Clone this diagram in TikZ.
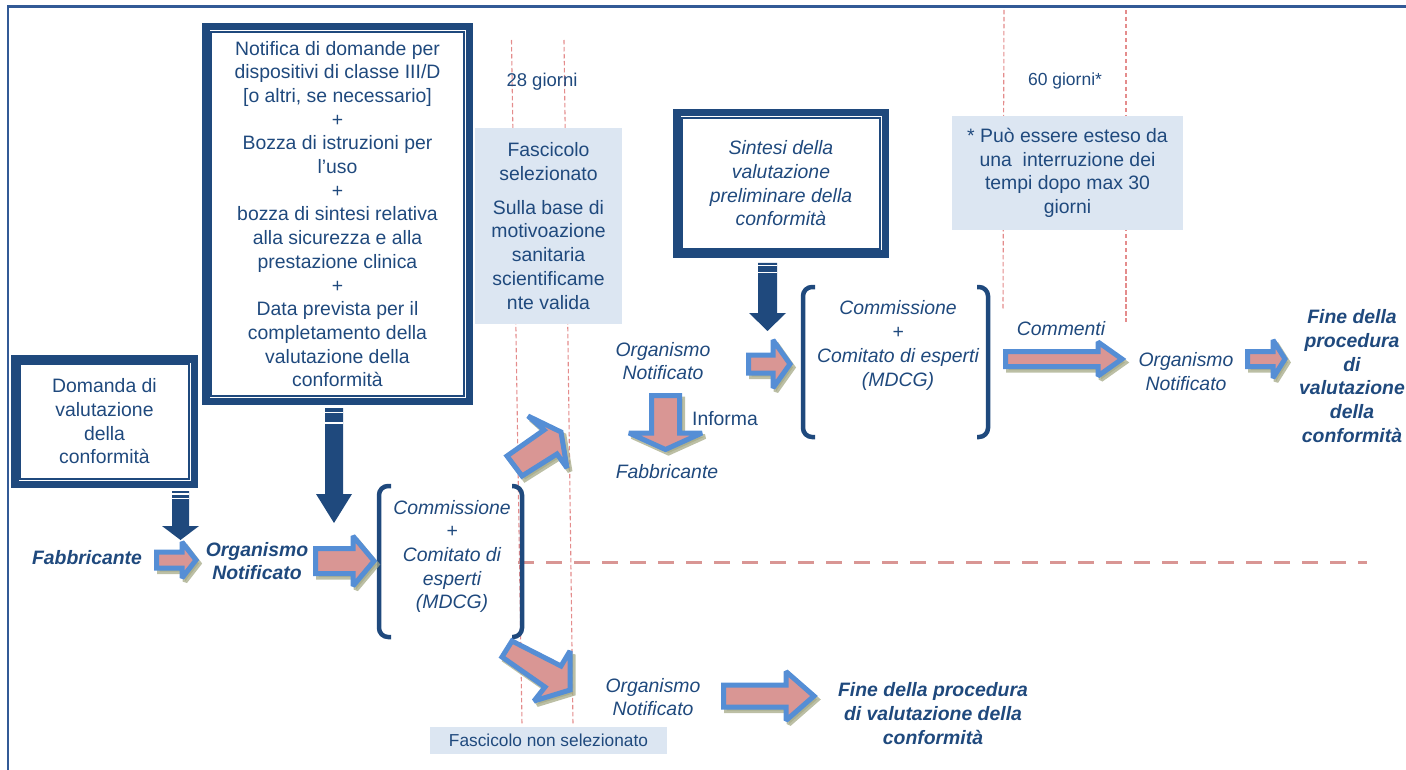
\documentclass[tikz,border=0pt]{standalone}
\usepackage{fontspec}
\setmainfont{Liberation Sans}
\definecolor{dkblue}{RGB}{31,73,125}
\definecolor{frameblue}{RGB}{50,90,150}
\definecolor{pinkfill}{RGB}{217,150,148}
\definecolor{arrblue}{RGB}{85,142,213}
\definecolor{lightbox}{RGB}{220,230,242}
\definecolor{dashred}{RGB}{228,140,140}
\definecolor{shcol}{RGB}{165,170,135}
\tikzset{
 txt/.style={font=\fontsize{19.4}{23.7}\selectfont, text=dkblue, align=center, inner sep=0pt, outer sep=0pt},
 itxt/.style={txt, font=\fontsize{19.4}{23.7}\selectfont\itshape},
 bitxt/.style={txt, font=\fontsize{19.4}{23.7}\selectfont\bfseries\itshape},
 dblbox/.style={draw=dkblue, line width=7.5pt},
 thinin/.style={draw=dkblue, line width=1.6pt},
 lbox/.style={fill=lightbox},
 vdash/.style={dashred, line width=1.1pt, dash pattern=on 4.5pt off 2.5pt},
 hdash/.style={pinkfill, line width=3pt, dash pattern=on 16pt off 12pt},
 pinkst/.style={fill=pinkfill, draw=arrblue, line width=5pt, line join=miter, miter limit=2},
 shadowst/.style={fill=shcol, draw=shcol, line width=5pt, opacity=0.75, line join=miter, miter limit=2},
 brk/.style={draw=dkblue, line width=4.5pt, rounded corners=9pt},
 framest/.style={draw=frameblue, line width=2.2pt},
 dkarr/.style={fill=dkblue},
 stripe/.style={draw=white, line width=1.2pt},
}
\newcommand\hpk[6]{%
 \filldraw[shadowst,shift={(3,3.5)}] (#1,#4-#5) -- (#2,#4-#5) -- (#2,#4-#6) -- (#3,#4) -- (#2,#4+#6) -- (#2,#4+#5) -- (#1,#4+#5) -- cycle;
 \filldraw[pinkst] (#1,#4-#5) -- (#2,#4-#5) -- (#2,#4-#6) -- (#3,#4) -- (#2,#4+#6) -- (#2,#4+#5) -- (#1,#4+#5) -- cycle;}
\newcommand\vpk[6]{%
 \filldraw[shadowst,shift={(3,3.5)}] (#1-#5,#2) -- (#1+#5,#2) -- (#1+#5,#3) -- (#1+#6,#3) -- (#1,#4) -- (#1-#6,#3) -- (#1-#5,#3) -- cycle;
 \filldraw[pinkst] (#1-#5,#2) -- (#1+#5,#2) -- (#1+#5,#3) -- (#1+#6,#3) -- (#1,#4) -- (#1-#6,#3) -- (#1-#5,#3) -- cycle;}
\newcommand\dka[8]{%
 \fill[dkarr] (#1-#5,#2) -- (#1+#5,#2) -- (#1+#5,#3) -- (#1+#6,#3) -- (#1,#4) -- (#1-#6,#3) -- (#1-#5,#3) -- cycle;
 \draw[stripe] (#1-#5,#7) -- (#1+#5,#7);
 \draw[stripe] (#1-#5,#8) -- (#1+#5,#8);}
\begin{document}
\begin{tikzpicture}[x=1pt,y=-1pt]
\useasboundingbox (0,0) rectangle (1406,770);
% frame
\draw[framest] (1406,6.5) -- (8.3,6.5) -- (8.3,770);
% dashed time lines
\draw[vdash] (511.5,40) -- (522,725);
\draw[vdash] (564,40) -- (573,725);
\draw[vdash] (1004,10) -- (1003,309);
\draw[vdash] (1126,10) -- (1126,322);
\draw[hdash] (518,562) -- (1367,562);
% light boxes
\node[txt, lbox, minimum width=147pt, minimum height=196pt] (sel) at (548.5,226)
 {Fascicolo\\selezionato\\[10pt]Sulla base di\\motivoazione\\sanitaria\\scientificame\\nte valida};
\node[txt, lbox, minimum width=231pt, minimum height=114pt] (note) at (1067.5,173)
 {* Può essere esteso da\\una \ interruzione dei\\tempi dopo max 30\\giorni};
\node[txt, lbox, font=\fontsize{17.3}{20}\selectfont, minimum width=237pt, minimum height=27pt] (nsel) at (548.5,740.5)
 {Fascicolo non selezionato};
\node[txt, font=\fontsize{18.5}{22}\selectfont] (g28) at (542,82) {28 giorni};
\node[txt, font=\fontsize{17.5}{21}\selectfont] (g60) at (1065,81) {60 giorni*};
% double boxes
\node[txt, dblbox, minimum width=179.5pt, minimum height=125.5pt] (b1) at (104.5,421.5)
 {Domanda di\\valutazione\\della\\conformità};
\draw[thinin] ([shift={(5.5,5.5)}]b1.north west) rectangle ([shift={(-5.5,-5.5)}]b1.south east);
\node[txt, dblbox, minimum width=263.5pt, minimum height=374.5pt] (b2) at (337.5,214)
 {Notifica di domande per\\dispositivi di classe III/D\\{}{[}o altri, se necessario{]}\\+\\Bozza di istruzioni per\\l’uso\\+\\bozza di sintesi relativa\\alla sicurezza e alla\\prestazione clinica\\+\\Data prevista per il\\completamento della\\valutazione della\\conformità};
\draw[thinin] ([shift={(5.5,5.5)}]b2.north west) rectangle ([shift={(-5.5,-5.5)}]b2.south east);
\node[itxt, dblbox, minimum width=208.5pt, minimum height=141.5pt] (b3) at (781,183.5)
 {Sintesi della\\valutazione\\preliminare della\\conformità};
\draw[thinin] ([shift={(5.5,5.5)}]b3.north west) rectangle ([shift={(-5.5,-5.5)}]b3.south east);
% brackets
\draw[brk] (391,486) -- (379,486) -- (379,637) -- (391,637);
\draw[brk] (512,486) -- (522,486) -- (522,637) -- (512,637);
\draw[brk] (815,287) -- (803,287) -- (803,437) -- (815,437);
\draw[brk] (977,287) -- (988,287) -- (988,437) -- (977,437);
% dark down arrows
\dka{180.5}{491}{526}{540}{8.5}{18.5}{494}{498.5}
\dka{334}{408}{494}{523}{9}{18}{412.7}{423}
\dka{767.5}{263}{313}{331}{9.5}{18.5}{265.7}{272.7}
% pink block arrows
\hpk{156.5}{182}{196}{560}{8}{18}
\hpk{315.5}{353}{374}{561}{12.5}{25}
\hpk{748.5}{773}{790}{364}{9}{24}
\hpk{1005.5}{1098}{1122}{359}{7.5}{17}
\hpk{1247.5}{1273}{1285}{359}{7.5}{19}
\hpk{723.5}{786}{814}{696}{11}{24.5}
\vpk{665.5}{395.5}{433}{449.5}{14}{36.5}
\filldraw[shadowst,shift={(3,3.5)}] (507,456) -- (544,430) -- (528,416) -- (561,432) -- (567,468) -- (557,454) -- (522,476) -- cycle;
\filldraw[pinkst] (507,456) -- (544,430) -- (528,416) -- (561,432) -- (567,468) -- (557,454) -- (522,476) -- cycle;
\filldraw[shadowst,shift={(3,3.5)}] (512,641) -- (561,666) -- (570,651) -- (570,690) -- (534,701) -- (545,687) -- (502,657) -- cycle;
\filldraw[pinkst] (512,641) -- (561,666) -- (570,651) -- (570,690) -- (534,701) -- (545,687) -- (502,657) -- cycle;
% texts
\node[bitxt] (fab1) at (87,558) {Fabbricante};
\node[bitxt] (on1) at (257,561) {Organismo\\Notificato};
\node[itxt] (comm1) at (452,556.5) {Commissione\\+\\Comitato di\\esperti\\(MDCG)};
\node[itxt] (on2) at (663,361) {Organismo\\Notificato};
\node[txt] (inf) at (725,419) {Informa};
\node[itxt] (fab2) at (667,472) {Fabbricante};
\node[itxt] (comm2) at (898,345.5) {Commissione\\+\\Comitato di esperti\\(MDCG)};
\node[itxt] (comm) at (1061,329) {Commenti};
\node[itxt] (on3) at (1186,371.5) {Organismo\\Notificato};
\node[bitxt] (fine1) at (1352,376) {Fine della\\procedura\\di\\valutazione\\della\\conformità};
\node[itxt] (on4) at (653,697) {Organismo\\Notificato};
\node[bitxt] (fine2) at (933,713.5) {Fine della procedura\\di valutazione della\\conformità};
\end{tikzpicture}
\end{document}
